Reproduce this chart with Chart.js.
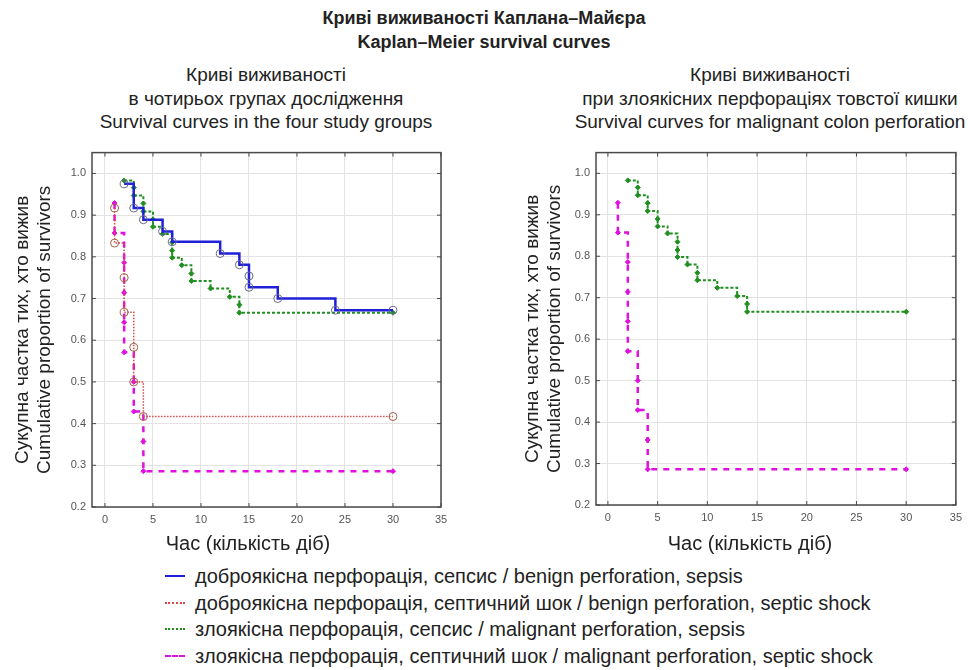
<!DOCTYPE html>
<html>
<head>
<meta charset="utf-8">
<script src="https://cdn.jsdelivr.net/npm/chart.js@4.4.1/dist/chart.umd.min.js"></script>
<style>
    body { margin: 0; width: 968px; height: 670px; background: #fff; position: relative; overflow: hidden;
           font-family: 'Liberation Sans', Arial, sans-serif; color: #222; }
    .txt { position: absolute; text-align: center; white-space: nowrap; }
    .box { position: absolute; }
    .legend { position: absolute; left: 165px; top: 563px; font-size: 20px; line-height: 26.5px; }
    .row { display: flex; align-items: center; white-space: nowrap; }
    .sample { width: 20px; height: 0; margin-right: 10px; }
</style>
</head>
<body>
<div class="txt" style="left:234px;width:500px;top:6px;font-weight:bold;font-size:18px;line-height:24px">
    Криві виживаності Каплана–Майєра<br>Kaplan–Meier survival curves</div>
<div class="txt" style="left:16px;width:500px;top:63px;font-size:19px;line-height:23.5px">
    Криві виживаності<br>в чотирьох групах дослідження<br>Survival curves in the four study groups</div>
<div class="txt" style="left:520px;width:500px;top:63px;font-size:19px;line-height:23.5px">
    Криві виживаності<br>при злоякісних перфораціях товстої кишки<br>Survival curves for malignant colon perforation</div>

<div class="box" style="left:0;top:140px;width:470px;height:420px"><canvas id="left" width="470" height="420"></canvas></div>
<div class="box" style="left:500px;top:140px;width:468px;height:420px"><canvas id="right" width="468" height="420"></canvas></div>

<div class="txt xt" style="left:98px;width:300px;top:531px;font-size:20px;line-height:24px"></div>
<div class="txt xt" style="left:600px;width:300px;top:531px;font-size:20px;line-height:24px"></div>

<div class="legend" id="legend"></div>

<script>
const X_TICKS = [0, 5, 10, 15, 20, 25, 30, 35];
const Y_TICKS = [0.2, 0.3, 0.4, 0.5, 0.6, 0.7, 0.8, 0.9, 1.0];

// benign perforation, sepsis
const benignSepsisDays = [2, 3, 4, 6, 7, 12, 14, 15, 15, 18, 24, 30];
const benignSepsisSurv = [0.975, 0.917, 0.889, 0.861, 0.836, 0.808, 0.781, 0.754, 0.727, 0.700, 0.672, 0.672];

// benign perforation, septic shock
const benignShockDays = [1, 1, 2, 2, 3, 3, 4, 30];
const benignShockSurv = [0.917, 0.833, 0.750, 0.667, 0.583, 0.500, 0.417, 0.417];

// malignant perforation, sepsis
const malignSepsisDays = [2, 3, 3, 4, 4, 5, 5, 6, 7, 7, 7, 8, 9, 9, 11, 13, 14, 14, 30];
const malignSepsisSurv = [0.983, 0.966, 0.947, 0.928, 0.909, 0.890, 0.872, 0.855, 0.835, 0.815, 0.798,
                          0.780, 0.760, 0.742, 0.724, 0.704, 0.685, 0.666, 0.666];

// malignant perforation, septic shock
const malignShockDays = [1, 1, 2, 2, 2, 2, 3, 3, 4, 4, 30];
const malignShockSurv = [0.929, 0.857, 0.786, 0.714, 0.643, 0.571, 0.500, 0.429, 0.357, 0.286, 0.286];

const LABELS = [
    'доброякісна перфорація, сепсис / benign perforation, sepsis',
    'доброякісна перфорація, септичний шок / benign perforation, septic shock',
    'злоякісна перфорація, сепсис / malignant perforation, sepsis',
    'злоякісна перфорація, септичний шок / malignant perforation, septic shock',
];

const Y_TITLE = ['Сукупна частка тих, хто вижив', 'Cumulative proportion of survivors'];
const X_TITLE = 'Час (кількість діб)';

const FONT = "'Liberation Sans', Arial, sans-serif";

const STYLES = {
    benignSepsis: { color: '#2020d8', width: 2.5, dash: [], marker: 'circle', r: 4, mColor: '#6a6a90' },
    benignShock: { color: '#d84a4a', width: 1.5, dash: [1.5, 1.5], marker: 'circle', r: 4, mColor: '#a0604a' },
    malignSepsis: { color: '#1f8f1f', width: 2, dash: [3, 2], marker: 'rectRot', r: 2.5, mColor: '#1f8f1f' },
    malignShock: { color: '#e010e0', width: 2.5, dash: [6, 6], marker: 'rectRot', r: 2.5, mColor: '#e010e0' },
};

function toPoints(days, surv) {
    return days.map((d, i) => ({ x: d, y: surv[i] }));
}

function makeDataset(label, days, surv, st) {
    return {
        label: label,
        data: toPoints(days, surv),
        stepped: true,
        borderColor: st.color,
        borderWidth: st.width,
        borderDash: st.dash,
        fill: false,
        pointStyle: st.marker,
        pointRadius: st.r,
        pointBorderColor: st.mColor,
        pointBackgroundColor: st.marker === 'circle' ? 'rgba(0,0,0,0)' : st.mColor,
        pointBorderWidth: 1,
    };
}

// frame round the plot plus inward tick marks on all four sides
const framePlugin = {
    id: 'frame',
    afterDatasetsDraw(chart) {
        const { ctx, chartArea: a, scales: { x, y } } = chart;
        ctx.save();
        ctx.strokeStyle = '#4a4a4a';
        ctx.lineWidth = 1;
        ctx.beginPath();
        x.ticks.forEach(t => {
            const px = x.getPixelForValue(t.value);
            ctx.moveTo(px, a.top); ctx.lineTo(px, a.top + 4);
            ctx.moveTo(px, a.bottom); ctx.lineTo(px, a.bottom - 4);
        });
        y.ticks.forEach(t => {
            const py = y.getPixelForValue(t.value);
            ctx.moveTo(a.left, py); ctx.lineTo(a.left + 4, py);
            ctx.moveTo(a.right, py); ctx.lineTo(a.right - 4, py);
        });
        ctx.stroke();
        ctx.lineWidth = 1.5;
        ctx.strokeRect(a.left, a.top, a.right - a.left, a.bottom - a.top);
        ctx.restore();
    },
};

function makeChart(canvas, datasets, cfg) {
    return new Chart(canvas, {
        type: 'line',
        data: { datasets },
        options: {
            responsive: false,
            animation: false,
            devicePixelRatio: 1,
            layout: { padding: { top: 10, right: cfg.padRight, left: 0, bottom: 0 } },
            plugins: { legend: { display: false }, tooltip: { enabled: false } },
            scales: {
                x: {
                    type: 'linear',
                    min: cfg.xMin,
                    max: 35,
                    afterBuildTicks: s => { s.ticks = X_TICKS.map(v => ({ value: v })); },
                    afterFit: s => { s.height = cfg.xHeight; },
                    grid: { color: '#e3e3e3', drawTicks: false },
                    border: { display: false },
                    ticks: { color: '#555', font: { family: FONT, size: 11 }, padding: 6, maxRotation: 0 },
                },
                y: {
                    min: 0.2,
                    max: 1.05,
                    afterBuildTicks: s => { s.ticks = Y_TICKS.map(v => ({ value: v })); },
                    afterFit: s => { s.width = cfg.yWidth; },
                    grid: { color: '#e3e3e3', drawTicks: false },
                    border: { display: false },
                    ticks: { color: '#555', font: { family: FONT, size: 11 }, padding: 6,
                             callback: v => v.toFixed(1) },
                    title: { display: true, text: Y_TITLE, color: '#222',
                             font: { family: FONT, size: 19, lineHeight: 1.2 }, padding: { top: cfg.yTitlePad, bottom: 0 } },
                },
            },
        },
        plugins: [framePlugin],
    });
}

Chart.defaults.font.family = FONT;

makeChart(document.getElementById('left'), [
    makeDataset(LABELS[0], benignSepsisDays, benignSepsisSurv, STYLES.benignSepsis),
    makeDataset(LABELS[1], benignShockDays, benignShockSurv, STYLES.benignShock),
    makeDataset(LABELS[2], malignSepsisDays, malignSepsisSurv, STYLES.malignSepsis),
    makeDataset(LABELS[3], malignShockDays, malignShockSurv, STYLES.malignShock),
], { xMin: -1.35, yWidth: 92, xHeight: 53, padRight: 29, yTitlePad: 11 });

makeChart(document.getElementById('right'), [
    makeDataset(LABELS[2], malignSepsisDays, malignSepsisSurv, STYLES.malignSepsis),
    makeDataset(LABELS[3], malignShockDays, malignShockSurv, STYLES.malignShock),
], { xMin: -1.2, yWidth: 96, xHeight: 55, padRight: 5, yTitlePad: 21 });

document.querySelectorAll('.xt').forEach(el => { el.textContent = X_TITLE; });

// shared legend under both plots
const legend = document.getElementById('legend');
const legendStyles = [STYLES.benignSepsis, STYLES.benignShock, STYLES.malignSepsis, STYLES.malignShock];
const legendBorders = ['solid', 'dotted', 'dotted', 'dashed'];
LABELS.forEach((label, i) => {
    const row = document.createElement('div');
    row.className = 'row';
    const s = document.createElement('span');
    s.className = 'sample';
    s.style.borderTop = Math.max(2, legendStyles[i].width) + 'px ' + legendBorders[i] + ' ' + legendStyles[i].color;
    row.appendChild(s);
    const t = document.createElement('span');
    t.textContent = label;
    row.appendChild(t);
    legend.appendChild(row);
});
</script>
</body>
</html>
